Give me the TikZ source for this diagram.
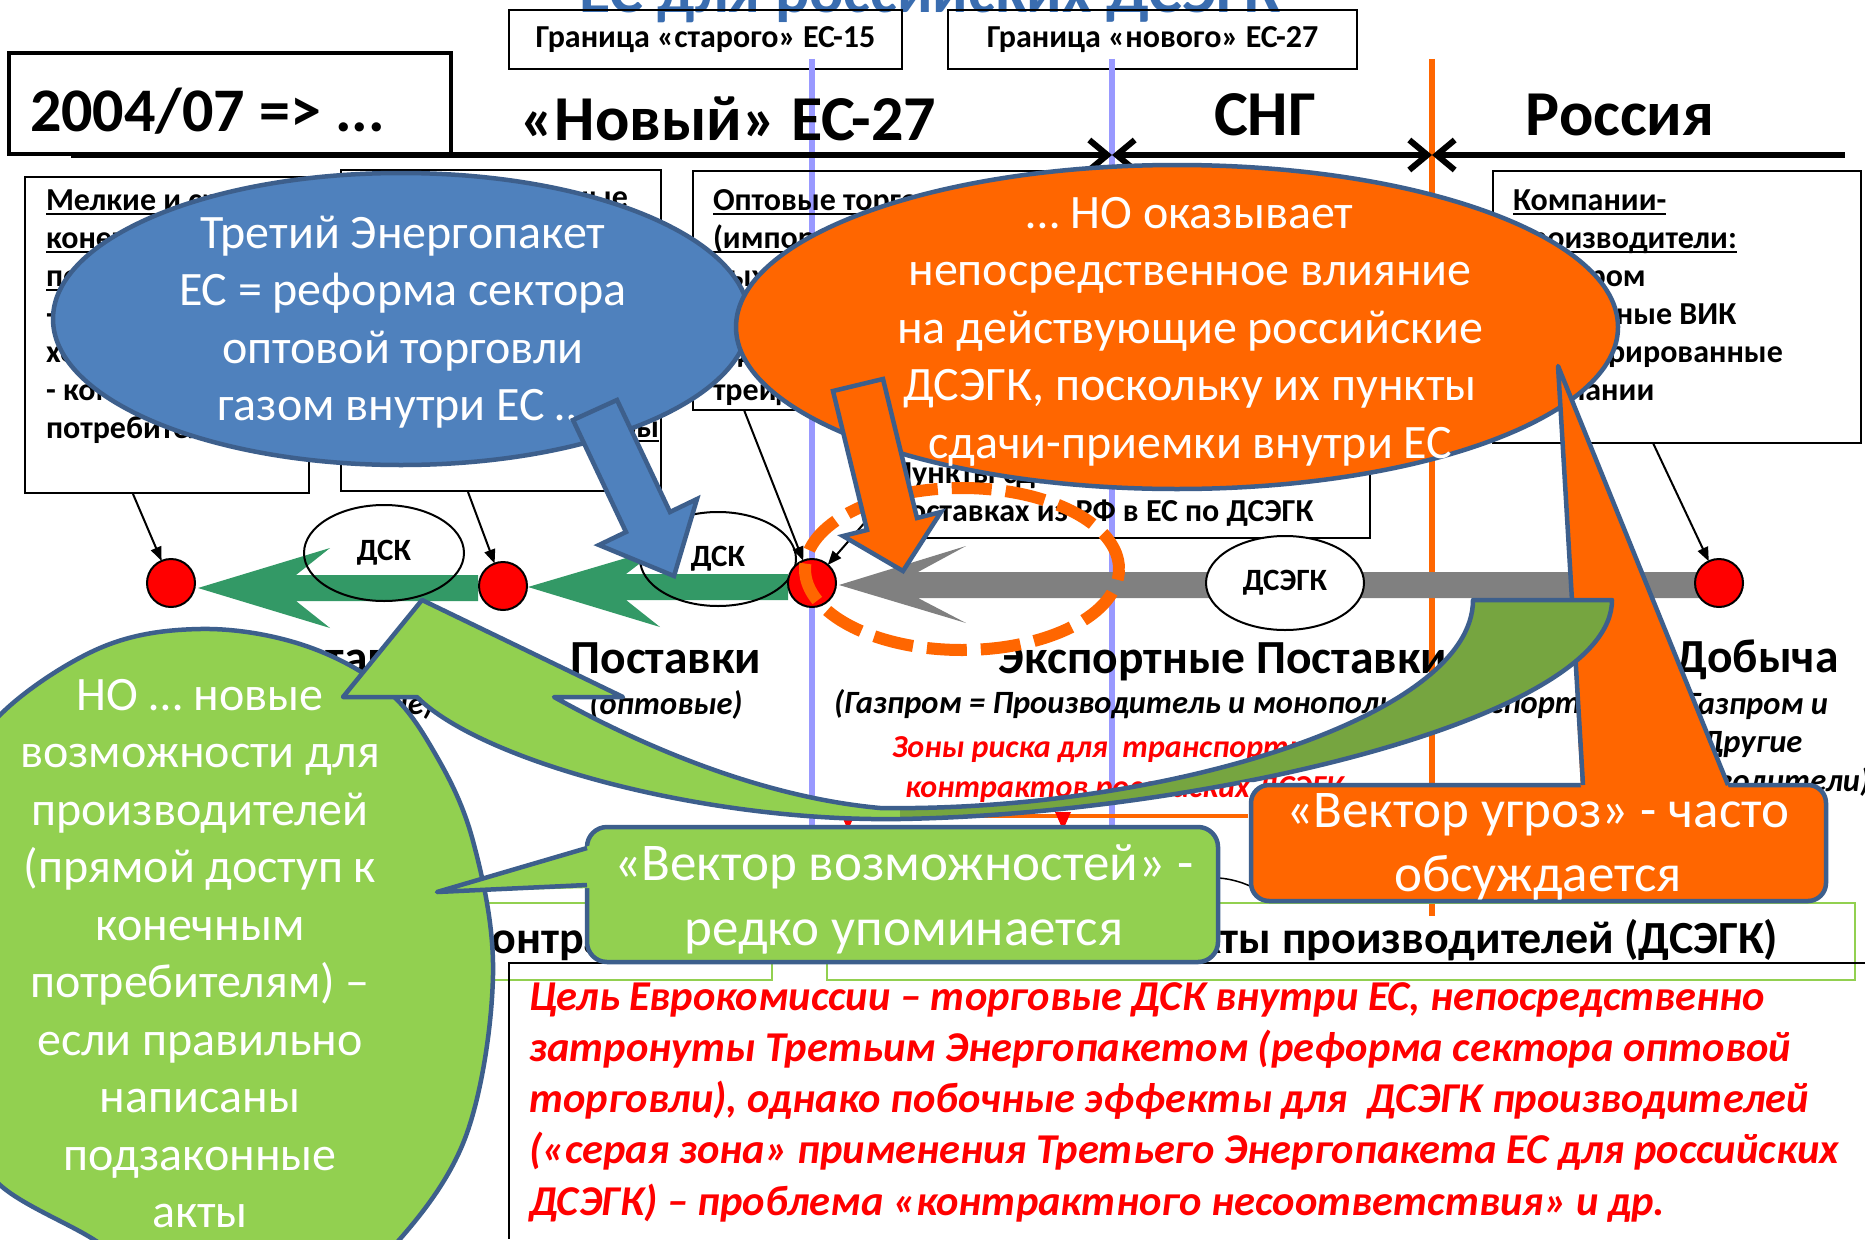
\documentclass[tikz,border=0pt]{standalone}
\usepackage{fontspec}
\setmainfont{Carlito}
\usetikzlibrary{arrows.meta,shapes.geometric}
\definecolor{orng}{HTML}{FF6600}
\definecolor{lav}{HTML}{9999FF}
\definecolor{bordblue}{HTML}{3D5F8C}
\definecolor{bfill}{HTML}{4F81BD}
\definecolor{lgreen}{HTML}{92D050}
\definecolor{dgreen}{HTML}{76A540}
\definecolor{fgreen}{HTML}{339966}
\definecolor{flowgray}{HTML}{808080}
\definecolor{tblue}{HTML}{3A6DB0}
\newcommand\myfs[2]{\fontsize{#1}{#2}\selectfont}
\newcommand\myul[1]{\setbox0=\hbox{#1}\rlap{\rule[-5pt]{\wd0}{2.2pt}}\box0}
\begin{document}
\begin{tikzpicture}[x=1pt,y=-1pt]
\tikzset{
  every node/.style={inner sep=0pt,outer sep=0pt},
  framebox/.style={draw=black,line width=2pt,anchor=north west},
  btxt/.style={font=\bfseries\myfs{32}{38},align=left,anchor=north west},
  head/.style={font=\bfseries\myfs{64}{72},anchor=base},
  lab/.style={font=\bfseries\myfs{47.5}{55},anchor=base},
  sublab/.style={font=\bfseries\itshape\myfs{32.5}{38.5},anchor=base},
  ptr/.style={draw=black,line width=2pt,-{Triangle[length=14pt,width=11pt]}},
  reddot/.style={circle,minimum size=48pt,fill=red,draw=black,line width=2pt},
  bigtxt/.style={text=white,font=\myfs{48}{57.5},align=center,anchor=north},
  calltxt/.style={text=white,font=\myfs{53}{64},align=center,anchor=north},
  lbl/.style={ellipse,draw=black,line width=2pt,font=\bfseries\myfs{31}{36}},
  hline/.style={line width=6pt},
  barb/.tip={Straight Barb[length=18pt,width=30pt]},
  outl/.style={draw=bordblue,line width=4.5pt,line join=round}
}
\path[use as bounding box] (0,0) rectangle (1865,1239);
\clip (0,0) rectangle (1865,1239);
\fill[white] (0,0) rectangle (1865,1239);

% title (cut at top)
\node[anchor=base,font=\bfseries\myfs{64}{72},text=tblue] (title) at (930,13) {ЕС для российских ДСЭГК};

% border labels
\node[framebox,minimum width=393pt,minimum height=59pt,font=\bfseries\myfs{32}{36}] (gr1) at (509,10) {Граница «старого» ЕС-15};
\node[framebox,minimum width=409pt,minimum height=59pt,font=\bfseries\myfs{32}{36}] (gr2) at (948,10) {Граница «нового» ЕС-27};

% vertical border lines
\draw[lav,line width=6pt] (812,59) -- (812,900);
\draw[lav,line width=6pt] (1112,59) -- (1112,900);
\draw[orng,line width=6pt] (1432,59) -- (1432,916);

% horizontal region line
\coordinate (hl0) at (71,155);
\coordinate (hl1) at (1112,155);
\coordinate (hl2) at (1432,155);
\coordinate (hl3) at (1845,155);
\draw[hline,-{barb}] (hl0) -- (hl1);
\draw[hline,{barb}-{barb}] (hl1) -- (hl2);
\draw[hline,{barb}-] (hl2) -- (hl3);

% region headings
\node[head] (hnew) at (728,140) {«Новый» ЕС-27};
\node[head] (hcis) at (1265,135) {СНГ};
\node[head] (hru) at (1620,135) {Россия};

% year box
\node[draw=black,line width=4pt,anchor=north west,minimum width=442pt,minimum height=101pt] (yrbox) at (9,53) {};
\node[anchor=base west,font=\bfseries\myfs{62}{70}] (yr) at (30,131) {2004/07 => ...};

% participant boxes
\node[framebox,minimum width=284pt,minimum height=316pt] (boxA) at (25,177) {};
\node[btxt] (boxAt) at (46,186) {\rule{0pt}{24pt}\myul{Мелкие и средние}\\\myul{конечные}\\\myul{потребители:}\\- домашние\\хозяйства\\- коммерческие\\потребители};
\node[framebox,minimum width=320pt,minimum height=321pt] (boxB) at (341,170) {};
\node[anchor=base east,font=\bfseries\myfs{32}{38}] (boxBt1) at (628,207) {Крупные промышленные};
\node[anchor=base east,font=\bfseries\myfs{32}{38}] (boxBt7) at (659,437) {\myul{дистрибьюторы}};
\node[framebox,minimum width=487pt,minimum height=239pt] (boxC) at (693,171) {};
\node[btxt] (boxCt) at (713,186) {\rule{0pt}{24pt}\myul{Оптовые торговцы}\\\myul{(импортеры,}\\выходящие на\\рынок ЕС)\\и ДСК-\\трейдеры};
\node[framebox,minimum width=368pt,minimum height=272pt] (boxD) at (1493,171) {};
\node[btxt] (boxDt) at (1513,186) {\rule{0pt}{24pt}\myul{Компании-}\\\myul{производители:}\\- Газпром\\- Нефтяные ВИК\\- Интегрированные\\компании};
\node[framebox,minimum width=490pt,minimum height=88pt] (boxE) at (880,450) {};
\node[btxt] (boxEt) at (892,459) {\rule{0pt}{24pt}Пункты сдачи-приемки\\поставках из РФ в ЕС по ДСЭГК};

% bottom part
\draw[lgreen,line width=2pt] (480,903) rectangle (772,980);
\draw[lgreen,line width=2pt] (827,903) rectangle (1855,980);
\node[anchor=base west,font=\bfseries\myfs{46}{55}] (kl) at (466,953) {Контракты торговцев (ДСК)};
\node[anchor=base east,font=\bfseries\myfs{46}{55}] (kr) at (1778,953) {и контракты производителей (ДСЭГК)};
\draw[line width=2.5pt] (1865,963) -- (509,963) -- (509,1239);
\node[anchor=north west,align=left,font=\bfseries\itshape\myfs{42.5}{51.3},text=red] (goal) at (529,980) {\rule{0pt}{30pt}Цель Еврокомиссии – торговые ДСК внутри ЕС, непосредственно\\затронуты Третьим Энергопакетом (реформа сектора оптовой\\торговли), однако побочные эффекты для\ \ ДСЭГК производителей\\(«серая зона» применения Третьего Энергопакета ЕС для российских\\ДСЭГК) – проблема «контрактного несоответствия» и др.};

% flow arrows
\fill[fgreen] (478,575) -- (296,575) -- (330,548) -- (198,588) -- (330,628) -- (296,601) -- (478,601) -- cycle;
\fill[fgreen] (788,574) -- (626,574) -- (660,548) -- (528,587) -- (660,627) -- (626,600) -- (788,600) -- cycle;
\fill[flowgray] (1703,572) -- (918,572) -- (966,546) -- (839,585) -- (966,623) -- (918,598) -- (1703,598) -- cycle;

% contract labels
\node[lbl,minimum width=160pt,minimum height=96pt] (dsk1) at (384,553) {ДСК};
\node[lbl,minimum width=156pt,minimum height=94pt] (dsk2) at (718,559) {ДСК};
\node[lbl,fill=white,minimum width=158pt,minimum height=94pt] (dsegk) at (1285,583) {ДСЭГК};

% nodes of the chain
\node[reddot] (d1) at (171,583) {};
\node[reddot] (d2) at (503,586) {};
\node[reddot] (d3) at (812,583) {};
\node[reddot] (d4) at (1719,583) {};
\coordinate (sA) at (133,494);
\coordinate (sB) at (468,492);
\coordinate (sC) at (744,410);
\coordinate (sE) at (880,505);
\coordinate (sD) at (1653,443);
\draw[ptr] (sA) -- (d1);
\draw[ptr] (sB) -- (d2);
\draw[ptr] (sC) -- (d3);
\draw[ptr] (sE) -- (d3);
\draw[ptr] (sD) -- (d4);

% stage labels
\node[lab] (lret) at (346,673) {Поставки};
\node[sublab] (lret2) at (346,714) {(розничные)};
\node[lab] (lwh) at (666,673) {Поставки};
\node[sublab] (lwh2) at (666,714) {(оптовые)};
\node[lab] (lexp) at (1223,673) {Экспортные Поставки};
\node[sublab,anchor=base west] (lexp2) at (834,713) {(Газпром = Производитель и монопольный экспортер)};
\node[lab] (lprod) at (1757,672) {Добыча};
\node[sublab,align=center,anchor=north] (lprod2) at (1752,690) {\rule{0pt}{23pt}(Газпром и\\Другие\\производители)};
\node[anchor=north west,align=left,font=\bfseries\itshape\myfs{32}{40},text=red] (risk) at (892,734) {\rule{0pt}{23pt}Зоны риска для\ \ транспортных\\\hspace*{13pt}контрактов российских ДСЭГК};

% bits under the callouts
\draw[orng,line width=4pt] (826,816) -- (1248,816);
\fill[red] (840,812) -- (856,812) -- (848,830) -- cycle;
\fill[red] (1055,812) -- (1071,812) -- (1063,830) -- cycle;
\draw[line width=1.5pt] (1219,878) .. controls (1232,879) and (1245,883) .. (1256,889);

% dashed risk zone
\draw[orng,line width=12pt,dash pattern=on 40pt off 14pt] (962,569) ellipse [x radius=157pt, y radius=81pt];

% blue ellipse and arrow
\draw[fill=bfill,outl] (401,319) ellipse [x radius=348pt, y radius=146pt];
\node[bigtxt] (btxt) at (403,212) {\rule{0pt}{36pt}Третий Энергопакет\\ЕС = реформа сектора\\оптовой торговли\\газом внутри ЕС …};
\draw[fill=bfill,outl,line join=miter] (573,420) -- (617,400) -- (670,512) -- (697,499) -- (674,576) -- (599,545) -- (626,532) -- cycle;

% orange ellipse and arrow
\draw[fill=orng,outl] (1177,327) ellipse [x radius=441pt, y radius=162pt];
\node[bigtxt] (otxt) at (1190,192) {\rule{0pt}{36pt}… НО оказывает\\непосредственное влияние\\на действующие российские\\ДСЭГК, поскольку их пункты\\сдачи-приемки внутри ЕС};
\draw[fill=orng,outl,line join=miter] (833,391) -- (883,379) -- (917,518) -- (941,512) -- (903,571) -- (843,536) -- (867,530) -- cycle;

% orange callout
\draw[fill=orng,outl,rounded corners=18pt] (1251,785) rectangle (1826,901);
\fill[orng] (1581,791) -- (1558,366) -- (1730,791) -- cycle;
\draw[outl] (1583,785) -- (1558,366) -- (1728,785);
\node[calltxt] (otc) at (1538,789) {\rule{0pt}{38pt}«Вектор угроз» - часто\\обсуждается};

% green circle
\draw[fill=lgreen,outl] plot[smooth cycle,tension=0.6] coordinates {(200,629) (300,644) (383,687) (433,750) (473,841) (493,975) (467,1133) (400,1239) (330,1290) (247,1305) (160,1285) (93,1239) (0,1185) (-40,1120) (-60,950) (-40,790) (0,715) (100,648)};
\node[bigtxt] (gtxt) at (200,674) {\rule{0pt}{36pt}НО … новые\\возможности для\\производителей\\(прямой доступ к\\конечным\\потребителям) –\\если правильно\\написаны\\подзаконные\\акты};

% green curved arrow
\begin{scope}
\clip (0,0) -- (1865,0) -- (1865,782) -- (1240,782) -- (1240,1239) -- (0,1239) -- cycle;
\fill[lgreen] (1473,600) -- (1612,600) .. controls (1612,720) and (1200,814) .. (900,819) .. controls (700,822) and (480,760) .. (417,697) -- (343,697) -- (422,600) -- (623,697) -- (554,697) .. controls (640,745) and (760,797) .. (880,808) .. controls (1160,812) and (1473,718) .. (1473,600) -- cycle;
\begin{scope}
\clip (900,0) rectangle (1865,1239);
\fill[dgreen] (1473,600) -- (1612,600) .. controls (1612,720) and (1200,814) .. (900,819) .. controls (700,822) and (480,760) .. (417,697) -- (343,697) -- (422,600) -- (623,697) -- (554,697) .. controls (640,745) and (760,797) .. (880,808) .. controls (1160,812) and (1473,718) .. (1473,600) -- cycle;
\end{scope}
\draw[outl] (1473,600) -- (1612,600) .. controls (1612,720) and (1200,814) .. (900,819) .. controls (700,822) and (480,760) .. (417,697) -- (343,697) -- (422,600) -- (623,697) -- (554,697) .. controls (640,745) and (760,797) .. (880,808) .. controls (1160,812) and (1473,718) .. (1473,600) -- cycle;
\end{scope}

% green callout
\draw[fill=lgreen,outl,rounded corners=20pt] (587,827) rectangle (1218,962);
\fill[lgreen] (592,845) -- (437,892) -- (592,888) -- cycle;
\draw[outl] (587,848) -- (437,892) -- (587,885);
\node[calltxt,font=\myfs{53}{65}] (gtc) at (904,842) {\rule{0pt}{38pt}«Вектор возможностей» -\\редко упоминается};
\end{tikzpicture}
\end{document}
